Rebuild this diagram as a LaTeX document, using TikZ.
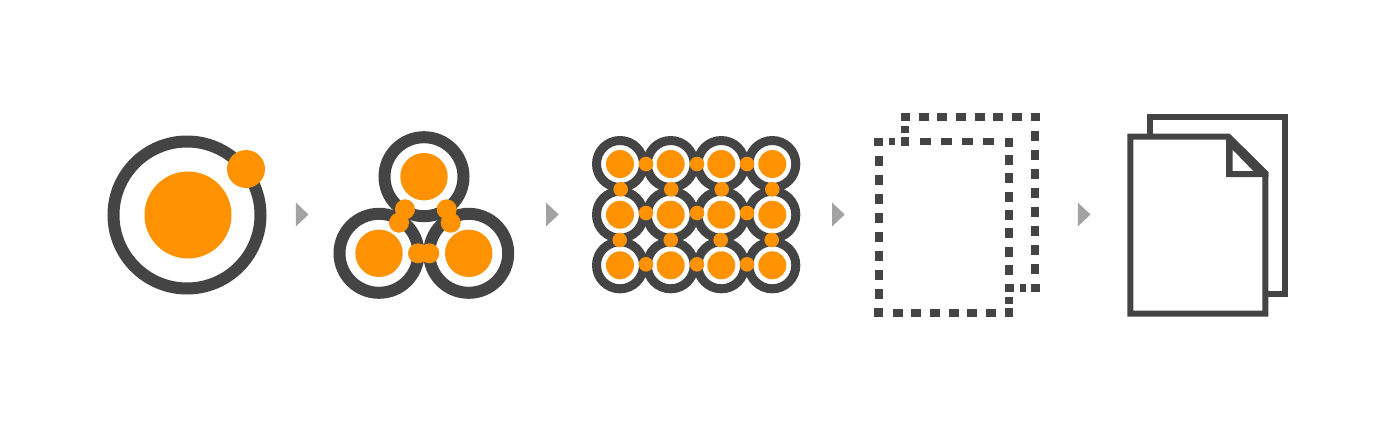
\documentclass[tikz,border=0pt]{standalone}
\definecolor{ringc}{HTML}{444444}
\definecolor{orangec}{HTML}{FF9200}
\definecolor{arrowc}{HTML}{A3A3A3}
\tikzset{
  ringone/.style={draw=ringc,line width=12pt,fill=white},
  ringtwo/.style={draw=ringc,line width=12pt,fill=white},
  ringthree/.style={draw=ringc,line width=9pt,fill=white},
  spot/.style={fill=orangec,draw=none},
  tri/.style={fill=arrowc,draw=none},
  sheet/.style={draw=ringc,line width=6pt,fill=white,line join=miter},
  dashbox/.style={fill=ringc,draw=none}
}
\newcommand{\hd}[3]{\fill[dashbox] ({(#1-#3/2)/3},{(#2-11)/3}) rectangle ({(#1+#3/2)/3},{(#2+11)/3});}
\newcommand{\vd}[3]{\fill[dashbox] ({(#1-12)/3},{(#2-#3/2)/3}) rectangle ({(#1+12)/3},{(#2+#3/2)/3});}
\newcommand{\cd}[2]{\fill[dashbox] ({(#1-13)/3},{(#2-13)/3}) rectangle ({(#1+13)/3},{(#2+13)/3});}
\begin{document}
\begin{tikzpicture}[x=1pt,y=-1pt]
\useasboundingbox (0,0) rectangle (1400,432);
\fill[white] (0,0) rectangle (1400,432);
% icon 1
\draw[ringone] (187,215) circle (73.5);
\fill[spot] (188,215) circle (43.5);
\fill[spot] (246,169) circle (19);
% icon 2
\foreach \x/\y in {424/176.7,379/253.3,468.7/253.3}{
  \draw[ringtwo] (\x,\y) circle (39.5);
  \fill[spot] (\x,\y) circle (23.7);
}
\foreach \x/\y in {405/209.3,399/222.7,446.7/209.3,450.7/222.7,418/253.3,429.3/253.3}
  \fill[spot] (\x,\y) circle (10);
% icon 3
\foreach \y in {164,214.7,265.3}
  \foreach \x in {620,670.7,721.3,772.3}
    \draw[ringthree] (\x,\y) circle (23.5);
\foreach \y in {164,214.7,265.3}
  \foreach \x in {620,670.7,721.3,772.3}
    \fill[spot] (\x,\y) circle (14);
\foreach \y in {164,213,264.3}
  \foreach \x in {646,697,747}
    \fill[spot] (\x,\y) circle (7.3);
\foreach \x in {620.7,671.3,721.7,772.3}
  \fill[spot] (\x,189.3) circle (7.3);
\foreach \x in {619.7,670.7,720.7,771.7}
  \fill[spot] (\x,240) circle (7.3);
% icon 4
\begin{scope}[shift={(865,105)}]
\foreach \x in {177,232,288,344,400,456} {\hd{\x}{36}{30}}
\cd{122}{36}\cd{511}{36}
\hd{120}{73}{24}
\foreach \y in {92,150,207,264,321,378,436,492} {\vd{511}{\y}{30}}
\cd{511}{549}
\fill[dashbox] ({464/3},{(549-12)/3}) rectangle ({482/3},{(549+12)/3});
\foreach \x in {181,245,308,371} {\hd{\x}{110}{33}}
\cd{41}{111}\cd{120}{109}\cd{432}{112}
\fill[dashbox] ({72/3},{99/3}) rectangle ({90/3},{121/3});
\foreach \y in {168,225,282,339,396,453,510,567} {\vd{41}{\y}{30}}
\cd{41}{623}\cd{432}{623}
\foreach \x in {98,153,209,266,321,378} {\hd{\x}{624}{29}}
\foreach \y in {165,220,275,330,385,440,494} {\vd{432}{\y}{30}}
\cd{434}{549}
\hd{432}{587}{24}
\end{scope}
% icon 5
\draw[sheet] (1150.3,136) -- (1150.3,117) -- (1285.3,117) -- (1285.3,294) -- (1265,294);
\draw[sheet] (1130.3,136.7) -- (1228.3,136.7) -- (1265.3,173.3) -- (1265.3,313.7) -- (1130.3,313.7) -- cycle;
\fill[ringc] (1226,134) -- (1229.5,134) -- (1268.3,172) -- (1268.3,177) -- (1226,177) -- cycle;
\fill[white] (1232.7,150) -- (1232.7,170.9) -- (1253,170.9) -- cycle;
% arrows
\foreach \x in {295.8,546,832,1077.8}
  \fill[tri] (\x,202.5) -- (\x+12.7,214.5) -- (\x,226.5) -- cycle;
\end{tikzpicture}
\end{document}
